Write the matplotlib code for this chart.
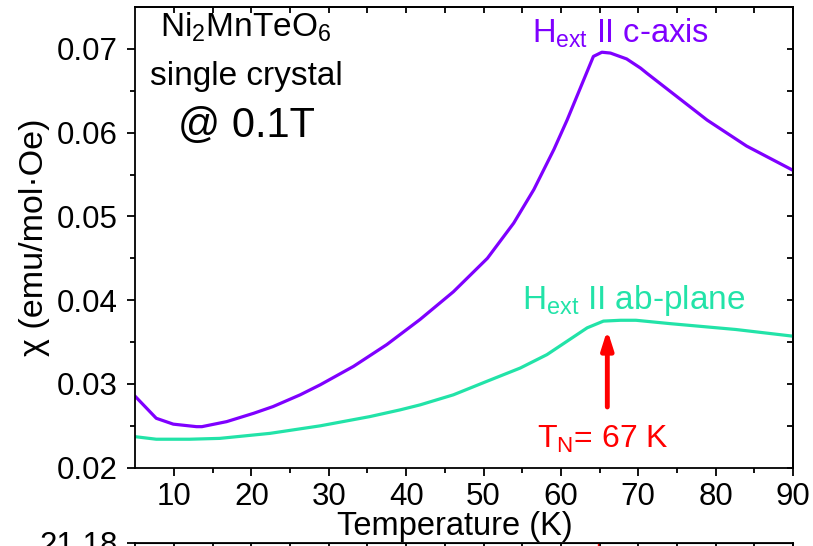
import matplotlib
matplotlib.use("Agg")
import matplotlib.pyplot as plt

plt.rcParams['font.family'] = ['Liberation Sans', 'DejaVu Sans']
plt.rcParams['mathtext.fontset'] = 'custom'
plt.rcParams['mathtext.rm'] = 'Liberation Sans'
plt.rcParams['mathtext.it'] = 'Liberation Sans:italic'
plt.rcParams['mathtext.bf'] = 'Liberation Sans:bold'

# c-axis data
T_c = [5, 7.7, 9.9, 12.9, 13.6, 16.8, 20.3, 22.8, 26.3, 28.9, 33.2, 37.5, 41.8, 46.1,
       50.5, 53.9, 56.5, 59.1, 60.8, 62.5, 64.2, 65.3, 66.4, 68.5, 70.3, 71.1,
       75, 78.9, 84, 90]
chi_c = [0.0285, 0.0259, 0.0252, 0.0249, 0.0249, 0.0255, 0.0265, 0.0273, 0.0287, 0.0299,
         0.0321, 0.0347, 0.0377, 0.0410, 0.0450, 0.0492, 0.0532, 0.0580, 0.0615,
         0.0653, 0.0691, 0.0696, 0.0695, 0.0688, 0.0677, 0.0671, 0.0643, 0.0615, 0.0584,
         0.0555]
# ab-plane data
T_ab = [5, 7.7, 12, 15.9, 22.4, 28.9, 35.3, 39.2, 41.8, 46.1, 50.4, 54.75, 58.2, 60.8,
        63.4, 65.5, 67.7, 69.7, 74.1, 82.6, 90]
chi_ab = [0.0237, 0.0234, 0.0234, 0.0235, 0.0241, 0.0250, 0.0261, 0.0269, 0.0275, 0.0287,
          0.0303, 0.0319, 0.0335, 0.0351, 0.0367, 0.0375, 0.0376, 0.0376, 0.0372,
          0.0365, 0.0357]

x_ticks = [10, 20, 30, 40, 50, 60, 70, 80, 90]
x_minor = [15, 25, 35, 45, 55, 65, 75, 85]
y_ticks = [0.02, 0.03, 0.04, 0.05, 0.06, 0.07]
y_minor = [0.025, 0.035, 0.045, 0.055, 0.065]
y_tick_labels = ['0.02', '0.03', '0.04', '0.05', '0.06', '0.07']
T_N = 66

purple = '#7F00FF'
teal = '#22E3A8'
red = '#FF0000'

fig = plt.figure(figsize=(8.13, 5.46), dpi=100)
L, R, B, Tp = 0.1665, 0.9754, 0.1434, 0.9872
ax = fig.add_axes([L, B, R - L, Tp - B])

ax.plot(T_c, chi_c, color=purple, lw=2.3)
ax.plot(T_ab, chi_ab, color=teal, lw=2.3)

ax.set_xlim(5, 90)
ax.set_ylim(0.02, 0.075)
ax.set_xticks(x_ticks)
ax.set_xticklabels([str(v) for v in x_ticks])
ax.set_yticks(y_ticks)
ax.set_yticklabels(y_tick_labels)
ax.set_xticks(x_minor, minor=True)
ax.set_yticks(y_minor, minor=True)

for s in ax.spines.values():
    s.set_linewidth(1.3)
ax.tick_params(which='both', direction='out', width=1.3, labelsize=22.5,
               top=False, right=False)
ax.tick_params(which='major', length=6)
ax.tick_params(which='minor', length=3.5)
ax.tick_params(axis='x', pad=4)
ax.tick_params(axis='y', pad=6.5)
# inward ticks on top/right
axt = ax.secondary_xaxis('top')
axt.set_xticks(x_ticks + x_minor)
axt.tick_params(direction='in', length=4, width=1.3, labeltop=False)
axr = ax.secondary_yaxis('right')
axr.set_yticks(y_ticks + y_minor)
axr.tick_params(direction='in', length=4, width=1.3, labelright=False)
axt.spines['top'].set_linewidth(1.3)
axr.spines['right'].set_linewidth(1.3)

ax.set_xlabel('Temperature (K)', fontsize=23.5)
ax.xaxis.set_label_coords(0.486, -0.095)
ax.xaxis.label.set_va('top')
ax.set_ylabel('χ (emu/mol·Oe)', fontsize=24.5, labelpad=5)

ax.text(19.3, 0.07146, r'Ni$_2$MnTeO$_6$', fontsize=24, ha='center', va='baseline')
ax.text(19.3, 0.0657, 'single crystal', fontsize=24, ha='center', va='baseline')
ax.text(19.3, 0.0595, '@ 0.1T', fontsize=30, ha='center', va='baseline')

ax.text(56.3, 0.07074, r'H$_{\mathrm{ext}}$ II c-axis', fontsize=23.5, color=purple,
        ha='left', va='baseline')
ax.text(55.0, 0.03893, r'H$_{\mathrm{ext}}$ II ab-plane', fontsize=24, color=teal,
        ha='left', va='baseline')
ax.text(56.9, 0.02232, r'T$_{\mathrm{N}}$= 67 K', fontsize=23, color=red,
        ha='left', va='baseline')

ax.annotate('', xy=(T_N, 0.03645), xytext=(T_N, 0.02725),
            arrowprops=dict(arrowstyle='-|>,head_width=0.35,head_length=1.1',
                            color=red, lw=3.5, shrinkA=0, shrinkB=0))

# partially visible lower panel
top2 = (546 - 542.7) / 546
ax2 = fig.add_axes([L, top2 - 0.5, R - L, 0.5])
ax2.set_xlim(5, 90)
ax2.set_ylim(20.0, 21.18)
ax2.set_yticks([21.18])
ax2.set_yticklabels(['21.18'])
ax2.set_xticks([])
ax2.axvline(64.8, color=red, lw=1)
for s in ax2.spines.values():
    s.set_linewidth(1.3)
ax2.tick_params(axis='y', direction='out', length=6, width=1.3, labelsize=22.5, pad=6.5)
ax2t = ax2.secondary_xaxis('top')
ax2t.set_xticks(x_ticks + x_minor)
ax2t.tick_params(direction='in', length=4, width=1.3, labeltop=False)

fig.savefig('out.png', dpi=100)
